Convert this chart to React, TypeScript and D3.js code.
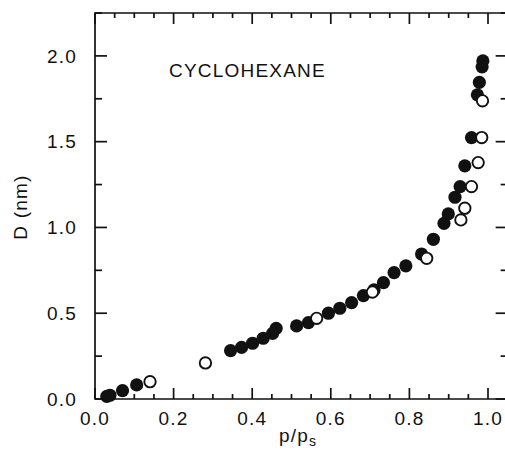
import { useRef, useEffect } from 'react';
import * as d3 from 'd3';

// filled circles
const filledP = [0.030, 0.038, 0.070, 0.106, 0.345, 0.373, 0.401, 0.428, 0.452, 0.461, 0.513, 0.543,
  0.594, 0.623, 0.653, 0.683, 0.710, 0.734, 0.761, 0.791, 0.831, 0.861, 0.888, 0.899, 0.916, 0.929,
  0.941, 0.958, 0.973, 0.978, 0.985, 0.987];
const filledD = [0.015, 0.022, 0.049, 0.082, 0.282, 0.301, 0.325, 0.354, 0.383, 0.412, 0.426, 0.445,
  0.500, 0.529, 0.562, 0.603, 0.636, 0.678, 0.737, 0.776, 0.845, 0.931, 1.024, 1.079, 1.176, 1.238,
  1.359, 1.524, 1.773, 1.846, 1.936, 1.971];

// open circles
const openP = [0.140, 0.281, 0.564, 0.706, 0.844, 0.931, 0.941, 0.958, 0.975, 0.984, 0.986];
const openD = [0.101, 0.210, 0.470, 0.623, 0.820, 1.044, 1.112, 1.238, 1.378, 1.524, 1.738];

const xMajor = [0, 0.2, 0.4, 0.6, 0.8, 1.0];
const yMajor = [0, 0.5, 1.0, 1.5, 2.0];

const W = 505;
const H = 450;
const INK = '#111';
const FONT = '"Liberation Sans", Arial, Helvetica, sans-serif';

export default function App() {
  const svgRef = useRef<SVGSVGElement>(null);

  useEffect(() => {
    const svg = d3.select(svgRef.current);
    svg.selectAll('*').remove();

    const left = 95, top = 13, bottom = 399;
    const x = d3.scaleLinear().domain([0, 1.05]).range([left, left + 1.05 * 393]);
    const y = d3.scaleLinear().domain([0, 2.25]).range([bottom, top]);
    const right = x(1.05);

    const xMinor = d3.range(0, 21).map((i) => i * 0.05).filter((v) => !xMajor.some((m) => Math.abs(m - v) < 1e-6));
    const yMinor = [0.25, 0.75, 1.25, 1.75, 2.25];

    const g = svg.append('g').attr('stroke', INK).attr('stroke-width', 1.7);

    // frame
    g.append('path')
      .attr('fill', 'none')
      .attr('d', `M${right},${bottom}H${left}V${top}H${right}V${bottom}`);

    // x ticks, top and bottom, pointing in
    const xt = (vals: number[], len: number) => {
      vals.forEach((v) => {
        g.append('line').attr('x1', x(v)).attr('x2', x(v)).attr('y1', bottom).attr('y2', bottom - len);
        g.append('line').attr('x1', x(v)).attr('x2', x(v)).attr('y1', top).attr('y2', top + len);
      });
    };
    xt(xMajor, 11);
    xt(xMinor, 5);

    // y ticks, left and right, pointing in
    const yt = (vals: number[], len: number) => {
      vals.forEach((v) => {
        g.append('line').attr('x1', left).attr('x2', left + len).attr('y1', y(v)).attr('y2', y(v));
        g.append('line').attr('x1', right).attr('x2', right - len).attr('y1', y(v)).attr('y2', y(v));
      });
    };
    yt(yMajor, 12);
    yt(yMinor, 7);

    const txt = svg.append('g')
      .attr('fill', INK)
      .attr('font-family', FONT)
      .attr('font-size', 19)
      .attr('letter-spacing', 1.2);

    txt.selectAll('.xl')
      .data(xMajor)
      .join('text')
      .attr('x', (d) => x(d))
      .attr('y', 425)
      .attr('text-anchor', 'middle')
      .text((d) => d3.format('.1f')(d));

    txt.selectAll('.yl')
      .data(yMajor)
      .join('text')
      .attr('x', 77)
      .attr('y', (d) => y(d) + 6.8)
      .attr('text-anchor', 'end')
      .text((d) => d3.format('.1f')(d));

    txt.append('text')
      .attr('x', 169)
      .attr('y', 77)
      .text('CYCLOHEXANE');

    txt.append('text')
      .attr('transform', 'translate(27,207) rotate(-90)')
      .attr('text-anchor', 'middle')
      .text('D (nm)');

    const xl = txt.append('text')
      .attr('x', 298)
      .attr('y', 442)
      .attr('text-anchor', 'middle');
    xl.append('tspan').text('p/p');
    xl.append('tspan').attr('font-size', 14).attr('dy', 4).text('s');

    // filled points
    svg.append('g')
      .selectAll('circle')
      .data(filledP.map((p, i) => [p, filledD[i]]))
      .join('circle')
      .attr('cx', (d) => x(d[0]))
      .attr('cy', (d) => y(d[1]))
      .attr('r', 6.6)
      .attr('fill', INK);

    // open points
    svg.append('g')
      .selectAll('circle')
      .data(openP.map((p, i) => [p, openD[i]]))
      .join('circle')
      .attr('cx', (d) => x(d[0]))
      .attr('cy', (d) => y(d[1]))
      .attr('r', 5.7)
      .attr('fill', '#fff')
      .attr('stroke', INK)
      .attr('stroke-width', 1.9);
  }, []);

  return (
    <svg
      ref={svgRef}
      width={W}
      height={H}
      style={{ position: 'absolute', left: 0, top: 0, background: '#fff' }}
    />
  );
}
